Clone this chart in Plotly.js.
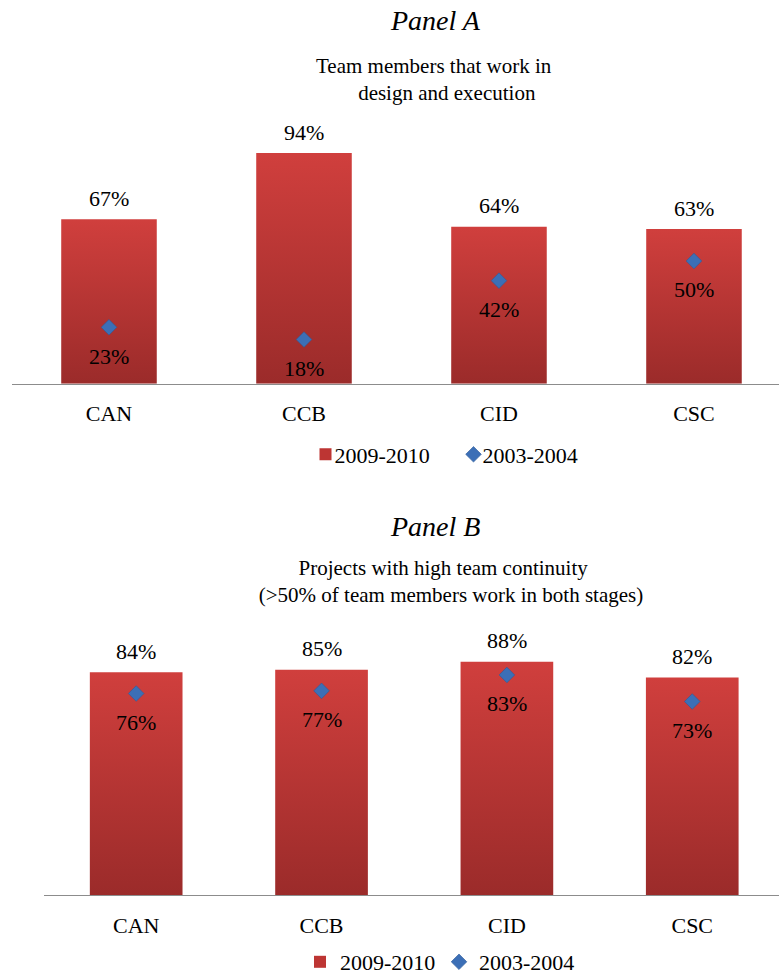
<!DOCTYPE html>
<html>
<head>
<meta charset="utf-8">
<script src="https://cdn.plot.ly/plotly-3.0.1.min.js"></script>
<style>
  html, body { margin: 0; padding: 0; background: #ffffff; }
  #chart { width: 779px; height: 978px; }
  /* tighter gap between legend symbols and their labels */
  #chart .legend text.legendtext { transform: translate(-11px, 0px); }
</style>
</head>
<body>
<div id="chart"></div>
<script>
// Categories and series values
const categories = ['CAN', 'CCB', 'CID', 'CSC'];
const seriesNames = ['2009-2010', '2003-2004'];

const panelA2009 = [67, 94, 64, 63];
const panelA2003 = [23, 18, 42, 50];

const panelB2009 = [84, 85, 88, 82];
const panelB2003 = [76, 77, 83, 73];

const panelTitles = ['Panel A', 'Panel B'];
const panelSubtitlesA = ['Team members that work in', 'design and execution'];
const panelSubtitlesB = ['Projects with high team continuity', '(>50% of team members work in both stages)'];

// Styling
const W = 779, H = 978;
const FONT = "'Liberation Serif', 'Times New Roman', serif";
const BAR_COLOR = '#bd3533';
const DIAMOND_COLOR = '#3c6fb6';
const NBSP = '\u00a0';
const py = p => 1 - p / H;      // pixel row -> paper y
const px = p => p / W;          // pixel column -> paper x

function barTrace(vals, xa, ya, legendId, width) {
  return {
    type: 'bar', x: categories, y: vals, name: seriesNames[0],
    xaxis: xa, yaxis: ya, legend: legendId, width: width,
    marker: { color: BAR_COLOR, line: { width: 0 } },
    hoverinfo: 'skip', cliponaxis: false
  };
}
function diamondTrace(vals, xa, ya, legendId) {
  return {
    type: 'scatter', mode: 'markers', x: categories, y: vals, name: seriesNames[1],
    xaxis: xa, yaxis: ya, legend: legendId,
    marker: { symbol: 'diamond', size: 12, color: DIAMOND_COLOR,
              line: { width: 0.6, color: '#2d5a98' } },
    hoverinfo: 'skip', cliponaxis: false
  };
}

const data = [
  barTrace(panelA2009, 'x', 'y', 'legend', 0.49),
  diamondTrace(panelA2003, 'x', 'y', 'legend'),
  barTrace(panelB2009, 'x2', 'y2', 'legend2', 0.5),
  diamondTrace(panelB2003, 'x2', 'y2', 'legend2')
];

// Value labels: bar values above the bars, earlier values under the diamonds
const annotations = [];
function valueLabels(barVals, dotVals, xr, yr) {
  categories.forEach((c, i) => {
    annotations.push({
      xref: xr, yref: yr, x: c, y: barVals[i], text: barVals[i] + '%',
      showarrow: false, yanchor: 'middle', yshift: 21,
      font: { family: FONT, size: 22, color: '#000' }
    });
    annotations.push({
      xref: xr, yref: yr, x: c, y: dotVals[i], text: dotVals[i] + '%',
      showarrow: false, yanchor: 'middle', yshift: -29,
      font: { family: FONT, size: 22, color: '#000' }
    });
  });
}
valueLabels(panelA2009, panelA2003, 'x', 'y');
valueLabels(panelB2009, panelB2003, 'x2', 'y2');

function textNote(text, cx, cy, size) {
  annotations.push({
    xref: 'paper', yref: 'paper', x: px(cx), y: py(cy), text: text,
    showarrow: false, xanchor: 'center', yanchor: 'middle',
    font: { family: FONT, size: size, color: '#000' }
  });
}
textNote('<i>' + panelTitles[0] + '</i>', 435, 21, 28);
textNote(panelSubtitlesA[0] + '<br>' + NBSP.repeat(5) + panelSubtitlesA[1], 434, 79, 21);
textNote('<i>' + panelTitles[1] + '</i>', 435, 526, 28);
textNote(panelSubtitlesB[0] + '<br>' + NBSP.repeat(3) + panelSubtitlesB[1], 443, 581, 21);

const xAxisBase = {
  type: 'category', showline: true, linecolor: '#8c8c8c', linewidth: 1,
  ticks: '', showgrid: false, zeroline: false, fixedrange: true,
  ticklabelstandoff: 10,
  tickfont: { family: FONT, size: 22, color: '#000' }
};
const yAxisBase = {
  range: [0, 100], visible: false, showgrid: false, zeroline: false, fixedrange: true
};
const legendBase = {
  orientation: 'h', xanchor: 'left', yanchor: 'middle',
  font: { family: FONT, size: 22, color: '#000' },
  bgcolor: 'rgba(0,0,0,0)', itemwidth: 30, tracegroupgap: 0,
  entrywidthmode: 'pixels'
};

const layout = {
  width: W, height: H,
  margin: { l: 0, r: 0, t: 0, b: 0, pad: 0, autoexpand: false },
  paper_bgcolor: '#ffffff', plot_bgcolor: '#ffffff',
  showlegend: true,
  xaxis: Object.assign({}, xAxisBase, { domain: [px(11.5), 1], range: [-0.5, 3.436], anchor: 'y' }),
  yaxis: Object.assign({}, yAxisBase, { domain: [py(383.7), py(138.3)], anchor: 'x' }),
  xaxis2: Object.assign({}, xAxisBase, { domain: [px(43.5), 1], range: [-0.5, 3.468], anchor: 'y2' }),
  yaxis2: Object.assign({}, yAxisBase, { domain: [py(895.3), py(629.8)], anchor: 'x2' }),
  legend: Object.assign({}, legendBase, { x: px(305.5), y: py(454.5), entrywidth: 103 }),
  legend2: Object.assign({}, legendBase, { x: px(300), y: py(962), entrywidth: 94 }),
  annotations: annotations
};

const NS = 'http://www.w3.org/2000/svg';
const gdEl = document.getElementById('chart');

// Vertical shading on the bars: lighter red at the top, darker at the base
function shadeBars() {
  const svg = gdEl.querySelector('svg.main-svg');
  if (!svg) return;
  if (!document.getElementById('barShade')) {
    let defs = svg.querySelector('defs');
    if (!defs) { defs = document.createElementNS(NS, 'defs'); svg.insertBefore(defs, svg.firstChild); }
    const grad = document.createElementNS(NS, 'linearGradient');
    grad.setAttribute('id', 'barShade');
    grad.setAttribute('x1', '0'); grad.setAttribute('y1', '0');
    grad.setAttribute('x2', '0'); grad.setAttribute('y2', '1');
    [['0', '#d03f3d'], ['1', '#9b2b2a']].forEach(([o, c]) => {
      const s = document.createElementNS(NS, 'stop');
      s.setAttribute('offset', o); s.setAttribute('stop-color', c);
      grad.appendChild(s);
    });
    defs.appendChild(grad);
  }
  gdEl.querySelectorAll('.barlayer .point path').forEach(p => { p.style.fill = 'url(#barShade)'; });
}

Plotly.newPlot(gdEl, data, layout, { staticPlot: true, displayModeBar: false }).then(gd => {
  shadeBars();
  gd.on('plotly_afterplot', shadeBars);
});
</script>
</body>
</html>
